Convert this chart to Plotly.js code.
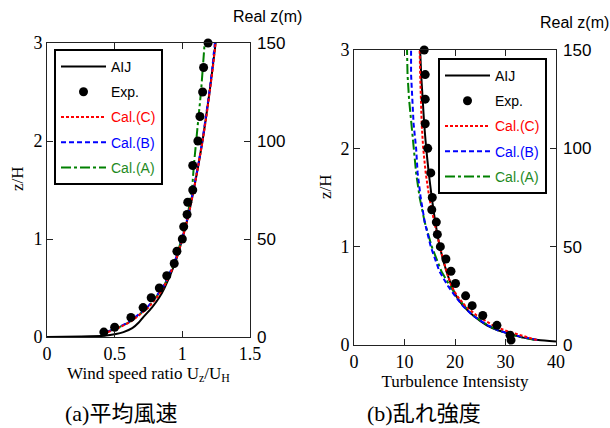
<!DOCTYPE html>
<html><head><meta charset="utf-8">
<script src="https://cdn.plot.ly/plotly-3.0.1.min.js"></script>
<style>html,body{margin:0;padding:0;background:#fff}#chart{width:610px;height:428px}</style>
</head><body><div id="chart"></div>
<script>
// ---------- (a) wind speed ratio ----------
const zExp = [0.05,0.1,0.2,0.3,0.4,0.5,0.625,0.75,0.875,1.0,1.125,1.25,1.375,1.5,1.75,2.0,2.25,2.5,2.75,3.0];
const uExp = [0.42,0.50,0.62,0.71,0.77,0.83,0.885,0.94,0.96,1.0,1.01,1.035,1.04,1.077,1.077,1.115,1.13,1.15,1.157,1.19];

const zAIJ_U = [0,0.005,0.013,0.03,0.05,0.09,0.15,0.2,0.3,0.4,0.5,0.75,1.0,1.25,1.5,1.75,2.0,2.25,2.5,2.75,3.0];
const uAIJ   = [0,0.25,0.42,0.51,0.565,0.63,0.68,0.71,0.775,0.828,0.868,0.945,1.0,1.046,1.084,1.118,1.149,1.176,1.201,1.224,1.246];

const zCal_U = [0.05,0.1,0.15,0.2,0.3,0.4,0.5,0.75,1.0,1.25,1.5,1.75,2.0,2.25,2.5,2.75,3.0];
const uCalC  = [0.45,0.54,0.61,0.66,0.75,0.81,0.86,0.945,1.0,1.047,1.085,1.12,1.15,1.178,1.203,1.226,1.245];
const uCalB  = [0.44,0.53,0.60,0.65,0.74,0.80,0.855,0.94,0.998,1.045,1.083,1.117,1.148,1.175,1.2,1.222,1.24];
const uCalA  = [0.44,0.535,0.605,0.655,0.745,0.805,0.858,0.94,0.995,1.04,1.072,1.085,1.105,1.12,1.138,1.152,1.165];

// ---------- (b) turbulence intensity ----------
const tiExp = [31.1,30.9,28.3,25.5,23.4,22.1,20.1,19.2,18.2,17.1,16.5,16.3,15.4,15.5,15.2,14.6,14.1,14.1,14.1,13.9];

const zAIJ_T = [0.035,0.05,0.075,0.1,0.15,0.2,0.3,0.4,0.5,0.75,1.0,1.25,1.5,1.75,2.0,2.25,2.5,2.75,3.0];
const tiAIJ  = [40,36.5,33.5,31.8,28.5,26.3,23.6,21.6,20.2,18.3,17.0,16.1,15.4,14.8,14.3,13.9,13.6,13.3,13.1];

const zCal_T = [0.05,0.08,0.1,0.15,0.2,0.3,0.4,0.5,0.6,0.75,1.0,1.25,1.5,1.75,2.0,2.25,2.5,2.75,3.0];
const tiCalC = [36.2,34.5,33.0,29.8,27.5,24.3,22.0,20.4,19.3,18.3,17.0,15.9,14.9,14.2,13.7,13.4,13.2,13.1,13.0];
const tiCalB = [36.3,33.5,31.8,28.5,26.5,23.5,21.5,20.0,18.6,16.9,15.2,14.0,13.2,12.6,12.3,11.8,11.5,11.3,11.3];
const tiCalA = [35.8,33.3,31.6,28.5,26.5,23.6,21.8,20.3,19.0,17.3,15.4,14.0,13.0,12.3,11.8,11.3,10.9,10.6,10.5];

const realZTicks = [0,50,100,150];

const names = ['AIJ','Exp.','<span style="color:#ff0000">Cal.(C)</span>','<span style="color:#0000ff">Cal.(B)</span>','<span style="color:#1e8a1e">Cal.(A)</span>'];

const W = 610, H = 428;
const px = v => v / W;
const py = v => 1 - v / H;

const lineAIJ = {color:'#000', width:2, shape:'spline', smoothing:0.6};
const lineC = {color:'#ff0000', width:2, dash:'3px,2px'};
const lineB = {color:'#0000ff', width:2, dash:'5px,3px'};
const lineA = {color:'#008000', width:2, dash:'10px,3px,3px,3px'};
const mk = {color:'#000', size:9};

function panel(xa, ya, leg, xAIJ, yAIJ, xC, xB, xA, yCal, xExp, yExp) {
  return [
    {x:xAIJ, y:yAIJ, xaxis:xa, yaxis:ya, mode:'lines', line:lineAIJ, name:names[0], legend:leg, legendgroup:leg+'1', legendrank:1},
    {x:xA, y:yCal, xaxis:xa, yaxis:ya, mode:'lines', line:lineA, name:names[4], legend:leg, legendgroup:leg+'5', legendrank:5},
    {x:xB, y:yCal, xaxis:xa, yaxis:ya, mode:'lines', line:lineB, name:names[3], legend:leg, legendgroup:leg+'4', legendrank:4},
    {x:xC, y:yCal, xaxis:xa, yaxis:ya, mode:'lines', line:lineC, name:names[2], legend:leg, legendgroup:leg+'3', legendrank:3},
    {x:xExp, y:yExp, xaxis:xa, yaxis:ya, mode:'markers', marker:mk, name:names[1], legend:leg, legendgroup:leg+'2', legendrank:2, cliponaxis:false}
  ];
}

// empty traces so that the secondary "Real z" axes get drawn
const axisHolders = [
  {x:[], y:[], xaxis:'x', yaxis:'y3', mode:'markers', showlegend:false, hoverinfo:'skip'},
  {x:[], y:[], xaxis:'x2', yaxis:'y4', mode:'markers', showlegend:false, hoverinfo:'skip'}
];

const data = [].concat(
  panel('x','y','legend', uAIJ, zAIJ_U, uCalC, uCalB, uCalA, zCal_U, uExp, zExp),
  panel('x2','y2','legend2', tiAIJ, zAIJ_T, tiCalC, tiCalB, tiCalA, zCal_T, tiExp, zExp),
  axisHolders
);

const serif = 'Liberation Serif, Times New Roman, serif';
const sans = 'Liberation Sans, Arial, sans-serif';

const axCommon = {
  showgrid:false, zeroline:false, showline:true, linecolor:'#222', linewidth:1,
  mirror:'ticks', ticks:'inside', ticklen:6, tickcolor:'#222',
  tickfont:{family:serif, size:18, color:'#000'}
};
const rightAx = {
  side:'right', range:[0,150], tickvals:realZTicks, ticks:'', showline:false, ticklabelstandoff:6,
  showgrid:false, zeroline:false, tickfont:{family:sans, size:17, color:'#000'}
};
const legCommon = {
  bgcolor:'#fff', bordercolor:'#000', borderwidth:2,
  font:{family:sans, size:14, color:'#000'},
  xanchor:'left', yanchor:'top', tracegroupgap:4, itemwidth:45, traceorder:'grouped'
};

const layout = {
  width:W, height:H, margin:{l:0,r:0,t:0,b:0},
  paper_bgcolor:'#fff', plot_bgcolor:'#fff',
  font:{family:serif, size:17, color:'#000'},
  showlegend:true,
  xaxis:Object.assign({}, axCommon, {domain:[px(47),px(250)], range:[0,1.5], tick0:0, dtick:0.5, anchor:'y',
    title:{text:'Wind speed ratio U<sub>z</sub>/U<sub>H</sub>', font:{family:serif, size:17}, standoff:0}}),
  yaxis:Object.assign({}, axCommon, {domain:[py(337),py(43)], range:[0,3], dtick:1, anchor:'x'}),
  yaxis3:Object.assign({}, rightAx, {overlaying:'y', anchor:'x'}),
  xaxis2:Object.assign({}, axCommon, {domain:[px(354),px(556)], range:[0,40], tick0:0, dtick:10, anchor:'y2',
    title:{text:'Turbulence Intensisty', font:{family:serif, size:17}, standoff:0}}),
  yaxis2:Object.assign({}, axCommon, {domain:[py(345),py(50)], range:[0,3], dtick:1, anchor:'x2'}),
  yaxis4:Object.assign({}, rightAx, {overlaying:'y2', anchor:'x2'}),
  legend:Object.assign({}, legCommon, {x:px(54), y:py(49)}),
  legend2:Object.assign({}, legCommon, {x:px(438), y:py(58)}),
  annotations:[
    {text:'z/H', xref:'paper', yref:'paper', x:px(17), y:py(179), textangle:-90, showarrow:false, xanchor:'center', yanchor:'middle', font:{family:serif, size:17, color:'#000'}},
    {text:'z/H', xref:'paper', yref:'paper', x:px(325), y:py(187), textangle:-90, showarrow:false, xanchor:'center', yanchor:'middle', font:{family:serif, size:17, color:'#000'}},
    {text:'Real z(m)', xref:'paper', yref:'paper', x:px(267), y:py(16), showarrow:false, xanchor:'center', yanchor:'middle', font:{family:sans, size:16, color:'#000'}},
    {text:'Real z(m)', xref:'paper', yref:'paper', x:px(574), y:py(23), showarrow:false, xanchor:'center', yanchor:'middle', font:{family:sans, size:16, color:'#000'}},
    {text:'(a)平均風速', xref:'paper', yref:'paper', x:px(121), y:py(413), showarrow:false, xanchor:'center', yanchor:'middle', font:{family:"Liberation Serif, 'Noto Sans CJK JP', serif", size:22, color:'#000'}},
    {text:'(b)乱れ強度', xref:'paper', yref:'paper', x:px(424), y:py(413), showarrow:false, xanchor:'center', yanchor:'middle', font:{family:"Liberation Serif, 'Noto Sans CJK JP', serif", size:22, color:'#000'}}
  ]
};

Plotly.newPlot('chart', data, layout, {staticPlot:true, displayModeBar:false});
</script></body></html>
